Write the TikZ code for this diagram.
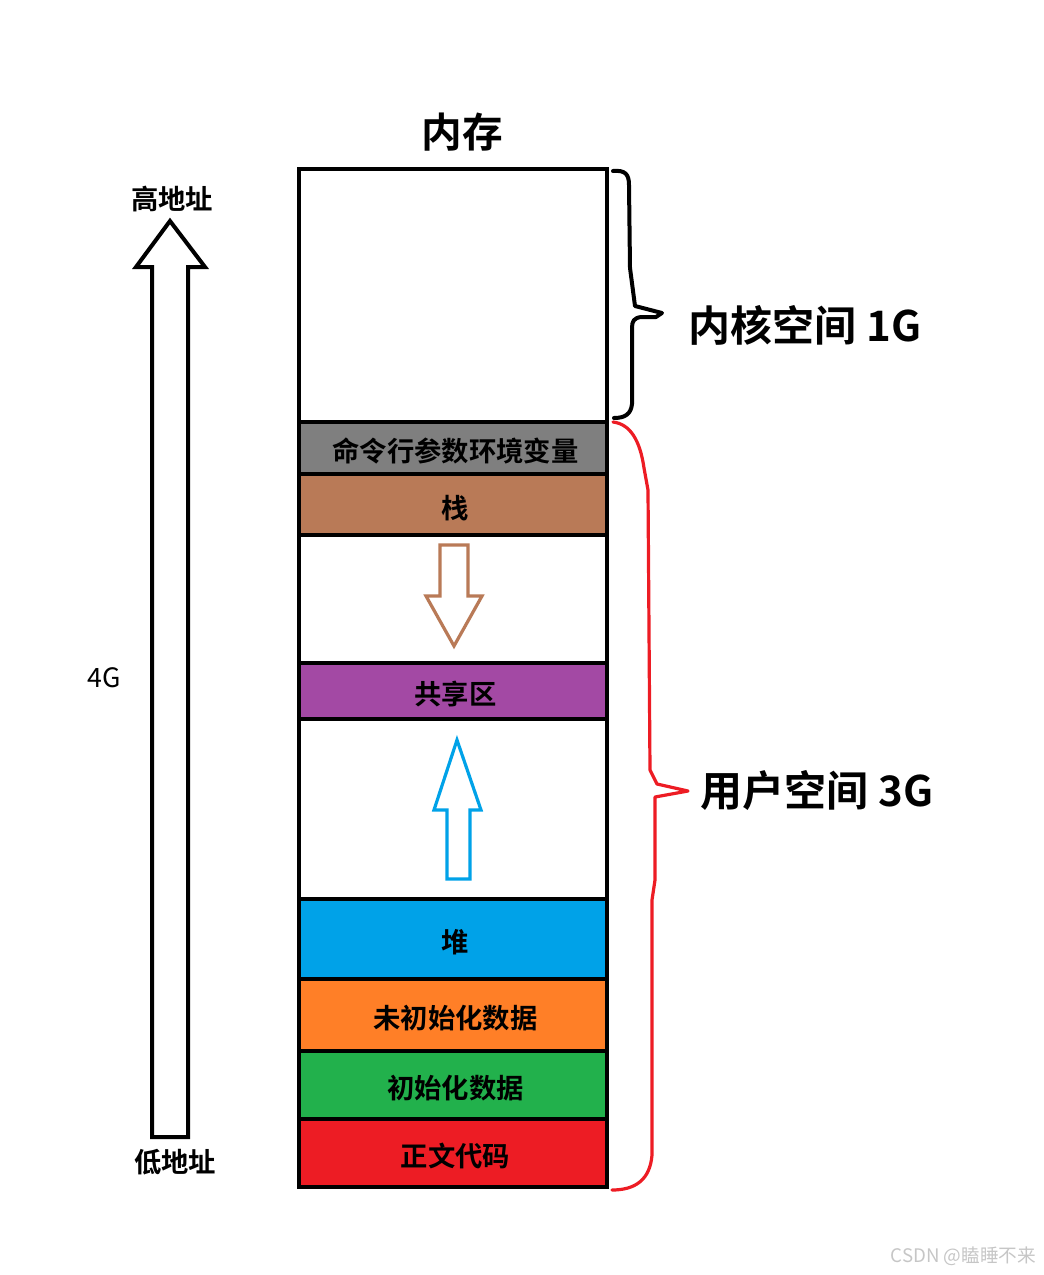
\documentclass[tikz,border=0pt]{standalone}
\usepackage{fontspec}
\setmainfont{Noto Sans CJK SC}[BoldFont={Noto Sans CJK SC Bold}]
\usetikzlibrary{positioning}

\definecolor{argsgray}{HTML}{7F7F7F}
\definecolor{stackbrown}{HTML}{B97A57}
\definecolor{sharepurple}{HTML}{A349A4}
\definecolor{heapblue}{HTML}{00A2E8}
\definecolor{bssorange}{HTML}{FF7F27}
\definecolor{datagreen}{HTML}{22B14C}
\definecolor{textred}{HTML}{ED1C24}

% label sits a little low and right in its box
\newcommand\seglabel[1]{\hspace*{3.5pt}\raisebox{-2.5pt}[\height][\depth]{#1}}

\begin{document}
\begin{tikzpicture}[
  x=0.75pt, y=-0.75pt,
  seg/.style={rectangle, draw=black, line width=3pt, minimum width=231pt,
              inner sep=0pt, font=\fontsize{20.5}{24}\selectfont\bfseries},
  title/.style={font=\fontsize{30.5}{36}\selectfont\bfseries},
  addr/.style={font=\fontsize{20.5}{24}\selectfont\bfseries},
  side/.style={font=\fontsize{31.5}{36}\selectfont\bfseries, anchor=west},
  growarrow/.style={line width=2.4pt, line join=miter, fill=white},
  brace/.style={line width=3pt, line join=round, line cap=round}
]
  \useasboundingbox (0,0) rectangle (1044,1275);

  % memory layout
  \node[seg, fill=white, minimum height=189.75pt] (kernel) at (453,295.5) {};
  \node[seg, fill=argsgray, minimum height=39pt] (args) at (453,448) {\seglabel{命令行参数环境变量}};
  \node[seg, fill=stackbrown, minimum height=45.75pt] (stack) at (453,504.5) {\seglabel{栈}};
  \node[seg, fill=white, minimum height=96pt] (gapdown) at (453,599) {};
  \node[seg, fill=sharepurple, minimum height=42pt] (share) at (453,691) {\seglabel{共享区}};
  \node[seg, fill=white, minimum height=135pt] (gapup) at (453,809) {};
  \node[seg, fill=heapblue, minimum height=60pt] (heap) at (453,939) {\seglabel{堆}};
  \node[seg, fill=bssorange, minimum height=54pt] (bss) at (453,1015) {\seglabel{未初始化数据}};
  \node[seg, fill=datagreen, minimum height=51pt] (data) at (453,1085) {\seglabel{初始化数据}};
  \node[seg, fill=textred, minimum height=51pt] (text) at (453,1153) {\seglabel{正文代码}};

  \node[title] (mem) at (462,132) {内存};

  % growth arrows
  \draw[growarrow, draw=stackbrown] (440,545) -- (468,545) -- (468,596) -- (482,596)
    -- (454,646) -- (426,596) -- (440,596) -- cycle;
  \draw[growarrow, draw=heapblue] (447,879) -- (470,879) -- (470,810) -- (481,810)
    -- (457,740) -- (434,810) -- (447,810) -- cycle;

  % address arrow
  \node[addr] (high) at (172,199) {高地址};
  \node[addr] (low) at (175,1162) {低地址};
  \node[font=\fontsize{20}{24}\selectfont] (size) at (104,678) {4G};
  \draw[line width=3pt, line join=miter, fill=white] (152,1137) -- (152,267) -- (136,267)
    -- (170,221) -- (205,267) -- (188,267) -- (188,1137) -- cycle;

  % braces
  \draw[brace] (613,171) .. controls (625,170) and (629,174) .. (629,185) -- (630,268)
    -- (635,306) -- (662,313) -- (656,317) -- (641,317)
    .. controls (634,318) and (632,321) .. (632,328) -- (632,404)
    .. controls (631,414) and (625,418) .. (614,418);
  \draw[brace, textred, line width=2.4pt] (613,422) .. controls (630,424) and (640,440) .. (644,468)
    -- (648,490) -- (650,770) -- (657,784) -- (688,791) -- (655,797) -- (655,880)
    -- (652,900) -- (652,1155) .. controls (650,1180) and (635,1190) .. (612,1190);

  \node[side] (kspace) at (684,325) {内核空间 1G};
  \node[side] (uspace) at (696,790) {用户空间 3G};

  \node[anchor=east, text=gray!45, font=\fontsize{14}{16}\selectfont] (mark) at (1041,1256) {CSDN @瞌睡不来};
\end{tikzpicture}
\end{document}
